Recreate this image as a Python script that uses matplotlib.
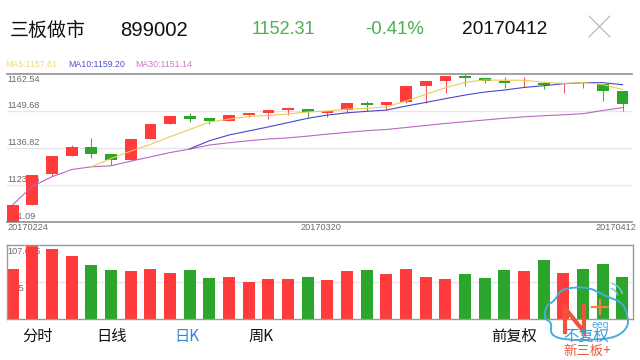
import matplotlib
matplotlib.use("Agg")
import matplotlib.pyplot as plt
from matplotlib.path import Path
from matplotlib.patches import PathPatch, Arc
from matplotlib.transforms import blended_transform_factory
import numpy as np

plt.rcParams['font.family'] = ['Liberation Sans', 'DejaVu Sans']
CJK = ['Noto Sans CJK SC', 'DejaVu Sans']

opens = [1111.0, 1117.06, 1127.49, 1133.86, 1137.0, 1134.6, 1132.47, 1139.77, 1144.87, 1147.77, 1146.95,
         1146.0, 1148.1, 1148.7, 1149.85, 1150.3, 1148.9, 1149.85, 1152.4, 1151.6, 1152.75, 1158.2,
         1159.9, 1161.67, 1161.0, 1159.9, 1159.1, 1159.2, 1158.8, 1159.6, 1158.8, 1156.5]
closes = [1117.06, 1127.37, 1133.86, 1137.0, 1134.7, 1132.47, 1139.77, 1144.87, 1147.77, 1146.84, 1146.0,
          1148.0, 1148.7, 1149.74, 1150.44, 1149.04, 1149.6, 1152.3, 1151.7, 1152.75, 1158.2, 1159.8,
          1161.55, 1161.1, 1160.0, 1159.1, 1159.2, 1158.5, 1159.1, 1159.1, 1156.5, 1152.0]
highs = [1117.06, 1127.37, 1133.86, 1137.7, 1140.1, 1134.6, 1139.77, 1144.87, 1147.77, 1148.7, 1146.95,
         1148.0, 1148.7, 1149.74, 1150.44, 1150.3, 1149.6, 1152.3, 1152.9, 1152.75, 1158.2, 1159.8,
         1161.55, 1162.2, 1161.0, 1161.2, 1161.4, 1159.7, 1159.1, 1159.6, 1158.8, 1156.5]
lows = [1111.0, 1117.06, 1127.0, 1133.86, 1133.05, 1130.7, 1132.47, 1139.77, 1144.87, 1145.7, 1145.0,
        1146.0, 1147.5, 1146.6, 1148.0, 1147.5, 1147.5, 1148.9, 1149.6, 1149.85, 1152.4, 1152.4,
        1155.65, 1158.2, 1159.1, 1157.6, 1157.7, 1157.0, 1155.9, 1157.6, 1153.0, 1149.4]
ma5 = [None, None, None, None, 1130.15, 1133.05, 1135.6, 1137.9, 1140.6, 1143.1, 1145.7, 1146.7, 1147.65,
       1148.0, 1148.5, 1149.2, 1149.5, 1150.2, 1150.4, 1151.0, 1153.0, 1155.3, 1157.6, 1159.5, 1160.3,
       1160.2, 1160.2, 1159.5, 1159.1, 1159.4, 1158.7, 1157.0]
ma10 = [None] * 9 + [1136.4, 1139.2, 1141.2, 1142.6, 1144.0, 1145.5, 1147.0, 1148.1, 1148.9, 1149.4, 1149.85,
                     1151.24, 1152.5, 1153.8, 1155.07, 1156.1, 1156.8, 1157.7, 1158.3, 1159.0, 1159.35,
                     1159.35, 1158.66]
ma30 = [1117.0, 1123.4, 1126.7, 1129.2, 1130.15, 1130.5, 1132.1, 1133.6, 1135.1, 1136.3, 1137.7, 1138.5,
        1139.2, 1139.8, 1140.2, 1140.8, 1141.5, 1142.1, 1142.7, 1143.1, 1143.8, 1144.5, 1145.2, 1145.8,
        1146.4, 1147.0, 1147.5, 1147.9, 1148.2, 1148.6, 1149.7, 1150.7]
volumes = [72.3, 107.05, 101.3, 91.6, 78.6, 70.9, 69.4, 72.8, 67.0, 70.9, 59.3, 61.2, 54.5, 57.9, 57.9, 61.2,
           56.4, 69.9, 71.4, 66.1, 72.8, 61.2, 58.8, 66.1, 59.8, 70.9, 69.4, 86.3, 67.0, 72.8, 79.6, 60.8]
vol_colors = list("rrrrggrrrggrrrrgrrgrrrrgggrgrggg")
price_ticks = [1162.54, 1149.68, 1136.82, 1123.96, 1111.09]
price_labels = ["1162.54", "1149.68", "1136.82", "1123.96", "1111.09"]
date_labels = ["20170224", "20170320", "20170412"]
vol_max = 107.05
vol_labels = ["107.025", "53.5"]

RED, GREEN = "#FF3B3B", "#2BA52B"
GRAY, GRID, TXT = "#9a9a9a", "#e6e6e6", "#6a6a6a"
W, H = 640, 360
x = np.arange(len(opens))

def box(l, t, r, b):
    return [l / W, 1 - b / H, (r - l) / W, (b - t) / H]

fig = plt.figure(figsize=(6.4, 3.6), dpi=100, facecolor="white")

# ---- candles
ax = fig.add_axes(box(6.5, 73.5, 632, 221.7))
ax.set_xlim(-0.315, 31.48)
ax.set_ylim(price_ticks[-1], price_ticks[0])
ax.set_yticks(price_ticks[1:-1])
ax.set_xticks([])
ax.tick_params(length=0, labelleft=False)
ax.grid(axis="y", color=GRID, lw=1.0, zorder=0)
ax.set_axisbelow(True)
for s in ("left", "right"):
    ax.spines[s].set_visible(False)
for s in ("top", "bottom"):
    ax.spines[s].set_color(GRAY)
    ax.spines[s].set_linewidth(1.3)
tr = blended_transform_factory(ax.transAxes, ax.transData)
label_offsets = [(0, -5.5), (0, 4.7), (0, 4.7), (0, 4.7), (-3, 5)]
for v, lab, off in zip(price_ticks, price_labels, label_offsets):
    ax.annotate(lab, xy=(0.001, v), xycoords=tr, xytext=off,
                textcoords="offset pixels", fontsize=6.6, color=TXT,
                va="center", ha="left", zorder=1, annotation_clip=False, clip_on=True)
for i in x:
    c = RED if closes[i] >= opens[i] else GREEN
    ax.vlines(i, lows[i], highs[i], color=c, lw=0.8, zorder=3, alpha=0.85)
    ax.bar(i, abs(closes[i] - opens[i]), bottom=min(opens[i], closes[i]), width=0.6, color=c, lw=0, zorder=4)
for series, col in ((ma30, "#B868C0"), (ma10, "#4A48C8"), (ma5, "#EFC95A")):
    xs = [i for i, v in zip(x, series) if v is not None]
    ys = [v for v in series if v is not None]
    ax.plot(xs, ys, color=col, lw=0.8, zorder=5, clip_on=False)

# ---- volume
av = fig.add_axes(box(6.5, 245.3, 633, 319.3))
av.set_xlim(-0.315, 31.54)
av.set_ylim(0, vol_max)
av.set_yticks([vol_max / 2])
av.set_xticks([])
av.tick_params(length=0, labelleft=False)
av.grid(axis="y", color=GRID, lw=1.0)
av.set_axisbelow(True)
for s in av.spines.values():
    s.set_color(GRAY)
    s.set_linewidth(1.0)
    s.set_zorder(6)
trv = blended_transform_factory(av.transAxes, av.transData)
av.annotate(vol_labels[0], xy=(0.001, vol_max), xycoords=trv, xytext=(0, -6.4), textcoords="offset pixels",
            fontsize=6.6, color=TXT, va="center", ha="left", zorder=1)
av.annotate(vol_labels[1], xy=(0.001, vol_max / 2), xycoords=trv, xytext=(0, -6), textcoords="offset pixels",
            fontsize=6.6, color=TXT, va="center", ha="left", zorder=1)
av.bar(x, volumes, width=0.6, color=[RED if c == "r" else GREEN for c in vol_colors], lw=0, zorder=3)

# ---- overlay in pixel coordinates for page furniture
ov = fig.add_axes([0, 0, 1, 1], zorder=10)
ov.set_xlim(0, W)
ov.set_ylim(H, 0)
ov.axis("off")
ov.patch.set_alpha(0)

def T(px, py, s, size, color="#111111", ha="left", family=None, **kw):
    ov.text(px, py, s, fontsize=size, color=color, ha=ha, va="center",
            family=family if family else plt.rcParams['font.family'], **kw)

T(10, 30, "三板做市", 13.7, family=CJK)
T(120.5, 30, "899002", 14.6)
T(252, 30, "1152.31", 13, color="#4CAF50")
T(365, 30, "-0.41%", 13.4, color="#4CAF50")
T(462, 30, "20170412", 13.8)
ov.plot([589, 610], [16, 37], color="#a8a8a8", lw=0.7)
ov.plot([610, 589], [16, 37], color="#a8a8a8", lw=0.7)

T(5, 64.5, "MA5:1157.61", 6.3, color="#F0D878")
T(68, 64.5, "MA10:1159.20", 6.3, color="#5050D0")
T(135, 64.5, "MA30:1151.14", 6.3, color="#CC77CC")

T(7, 227.5, date_labels[0], 6.6, color=TXT)
T(300, 227.5, date_labels[1], 6.6, color=TXT)
T(636, 227.5, date_labels[2], 6.6, color=TXT, ha="right")

T(22, 336, "分时", 11, family=CJK)
T(96, 336, "日线", 11, family=CJK)
T(174, 336, "日K", 11, color="#2F86DE", family=CJK)
T(249, 336, "周K", 11, family=CJK)
T(491, 336, "前复权", 11, family=CJK)
T(563, 336.5, "不复权", 11, color="#3A9BDC", family=CJK)

# ---- watermark
pts = [(552, 322), (544, 319), (546, 305), (555, 301), (560, 290), (575, 287), (590, 288), (600, 293),
       (610, 298), (622, 302), (628, 315), (628, 328), (615, 338), (590, 340), (565, 340), (550, 335)]
pts = np.array(pts, float)
mids = (pts + np.roll(pts, -1, axis=0)) / 2
verts = [mids[-1]]
codes = [Path.MOVETO]
for p, m in zip(pts, mids):
    verts += [p, m]
    codes += [Path.CURVE3, Path.CURVE3]
ov.add_patch(PathPatch(Path(verts, codes), fill=False, ec="#45ADE0", lw=1.4))
ov.add_patch(Arc((608, 298), 30, 30, theta1=-75, theta2=-15, ec="#7FC6E8", lw=1.0))
ov.add_patch(Arc((608, 298), 20, 20, theta1=-75, theta2=-15, ec="#7FC6E8", lw=1.0))
ov.plot([565, 565, 584, 584], [332, 308, 332, 306], color="#F2543A", lw=3.0, solid_joinstyle="miter")
ov.plot([592, 608], [307, 307], color="#F2843A", lw=1.6)
ov.plot([600, 600], [300, 314], color="#F2843A", lw=1.6)
T(592, 324.5, "eeq", 7.5, color="#45ADE0")
T(563, 351, "新三板+", 9.6, color="#F0573F", family=CJK)

fig.savefig("out.png", dpi=100)
